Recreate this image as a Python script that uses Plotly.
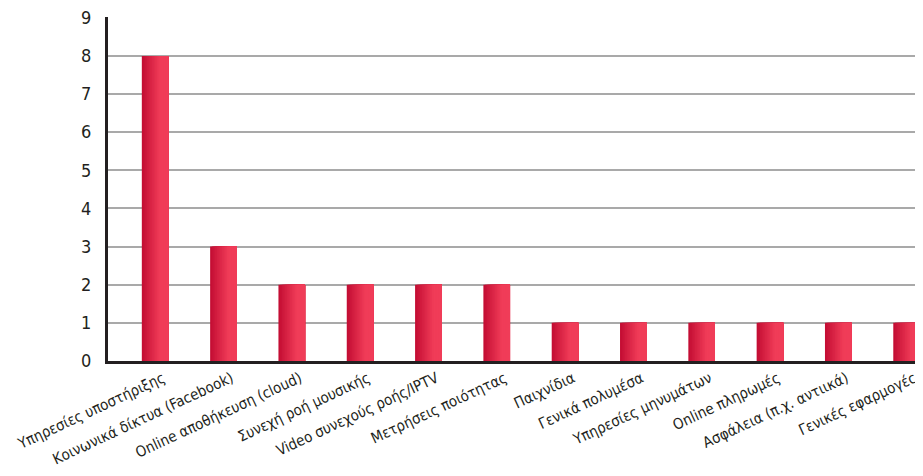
import plotly.graph_objects as go

categories = ["Υπηρεσίες υποστήριξης", "Κοινωνικά δίκτυα (Facebook)", "Online αποθήκευση (cloud)",
              "Συνεχή ροή μουσικής", "Video συνεχούς ροής/IPTV", "Μετρήσεις ποιότητας",
              "Παιχνίδια", "Γενικά πολυμέσα", "Υπηρεσίες μηνυμάτων", "Online πληρωμές",
              "Ασφάλεια (π.χ. αντιικά)", "Γενικές εφαρμογές"]
values = [8, 3, 2, 2, 2, 2, 1, 1, 1, 1, 1, 1]
y_ticks = [0, 1, 2, 3, 4, 5, 6, 7, 8, 9]

FONT = "DejaVu Sans Condensed, Liberation Sans Narrow, Liberation Sans, sans-serif"

# gradient simulated by overlapping strips (each extends to the bar's right edge)
N = 16
W = 0.39
c0 = (196, 14, 52)
c1 = (240, 60, 88)
fig = go.Figure()
xs = list(range(len(categories)))
for k in range(N):
    t = k / (N - 1)
    t2 = min(1.0, t / 0.7)
    col = tuple(int(round(c0[i] + (c1[i] - c0[i]) * t2)) for i in range(3))
    fig.add_trace(go.Bar(
        x=xs, y=values,
        width=W - k * W / N,
        offset=-W / 2 + k * W / N,
        marker=dict(color="rgb(%d,%d,%d)" % col, line=dict(width=0)),
        showlegend=False, hoverinfo="skip" if k else "y",
    ))

fig.update_layout(
    width=915, height=468,
    margin=dict(l=100, r=0, t=9, b=115),
    barmode="overlay",
    plot_bgcolor="white", paper_bgcolor="white",
    font=dict(family=FONT, size=15, color="#231f20"),
)
fig.update_xaxes(
    range=[-0.69, 11.24],
    tickmode="array", tickvals=xs, ticktext=categories,
    tickangle=-25, showgrid=False, ticks="",
    ticklabeloverflow="allow", automargin=False,
    ticklabelshift=8,
    showline=True, linecolor="#231f20", linewidth=3,
    tickfont=dict(size=15, family=FONT, color="#231f20"),
    zeroline=False,
)
fig.update_yaxes(
    range=[0, 9.02], tickmode="array", tickvals=y_ticks,
    showgrid=True, gridcolor="#a9a9a9", gridwidth=2,
    showline=True, linecolor="#231f20", linewidth=3,
    ticks="", ticklabelstandoff=10,
    ticklabeloverflow="allow", automargin=False,
    tickfont=dict(size=18, family=FONT, color="#231f20"),
    zeroline=False,
)
fig.write_html("out.html")
